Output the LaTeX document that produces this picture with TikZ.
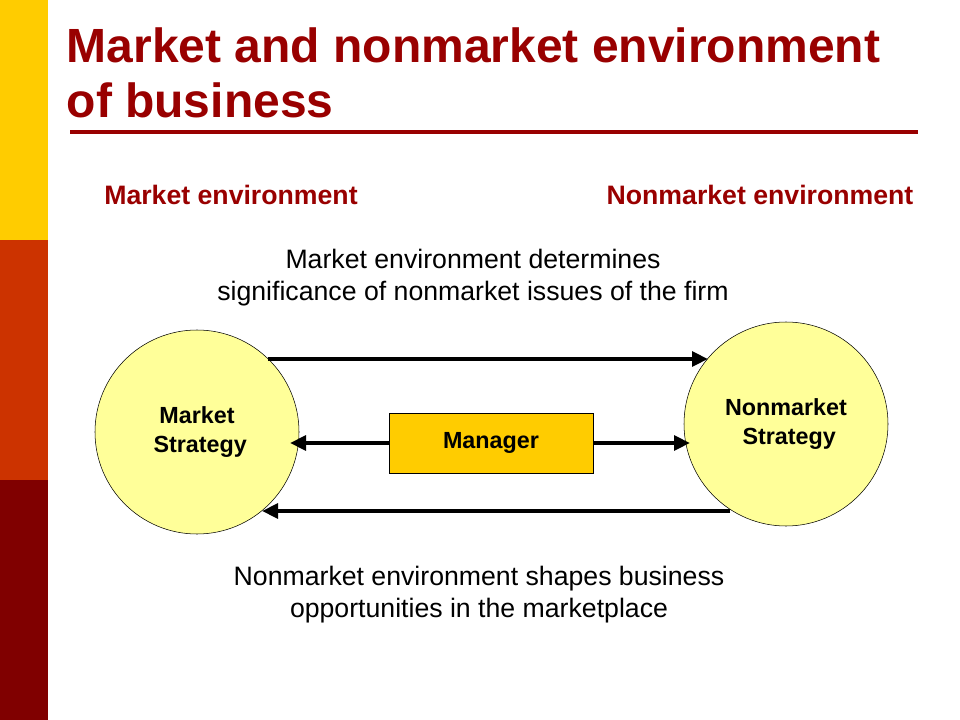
\documentclass[tikz,border=0pt]{standalone}
\usepackage{fontspec}
\setmainfont{Liberation Sans}
\usetikzlibrary{arrows.meta}
\definecolor{titred}{HTML}{990000}
\definecolor{barY}{HTML}{FFCC00}
\definecolor{barO}{HTML}{CC3300}
\definecolor{barR}{HTML}{800000}
\definecolor{circY}{HTML}{FFFF99}
\begin{document}
\begin{tikzpicture}[x=0.75pt,y=-0.75pt,
  circ/.style={circle,draw=black,fill=circY,minimum size=153pt,inner sep=0pt,font=\fontsize{17.5}{22}\selectfont\bfseries,align=center},
  head/.style={font=\fontsize{20}{24}\selectfont\bfseries,text=titred},
  body/.style={font=\fontsize{20}{24}\selectfont,align=center},
  arr/.style={line width=3pt,-{Triangle[length=12pt,width=11pt]}}]
\useasboundingbox (0,0) rectangle (960,720);
\fill[white] (0,0) rectangle (960,720);
\fill[barY] (0,0) rectangle (48,240);
\fill[barO] (0,240) rectangle (48,480);
\fill[barR] (0,480) rectangle (48,720);
\node[anchor=west,text=titred,font=\fontsize{36}{41}\selectfont\bfseries,align=left] (title) at (62,73) {Market and nonmarket environment\\of business};
\draw[titred,line width=3pt] (70,132) -- (918,132);
\node[head] (mh) at (231,195) {Market environment};
\node[head] (nh) at (760,195) {Nonmarket environment};
\node[body] (top) at (473,278) {Market environment determines\\significance of nonmarket issues of the firm};
\node[body] (bot) at (479,595) {Nonmarket environment shapes business\\opportunities in the marketplace};
\node[circ] (L) at (197,432) {Market\\\ Strategy};
\node[circ] (R) at (786,424) {Nonmarket\\\ Strategy};
\node[draw=black,fill=barY,minimum width=153pt,minimum height=45pt,inner sep=0pt,font=\fontsize{17.5}{20}\selectfont\bfseries] (M) at (491,443) {Manager};
\coordinate (t1) at (268,359); \coordinate (t2) at (708,359);
\coordinate (b1) at (730,511); \coordinate (b2) at (262,511);
\draw[arr] (t1) -- (t2);
\draw[arr] (b1) -- (b2);
\draw[arr] (M.west) -- (290,443);
\draw[arr] (M.east) -- (690,443);
\end{tikzpicture}
\end{document}
